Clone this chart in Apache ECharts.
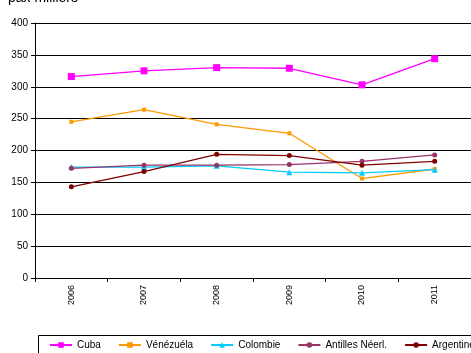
<!DOCTYPE html>
<html>
<head>
<meta charset="utf-8">
<script src="https://cdn.jsdelivr.net/npm/echarts@6/dist/echarts.min.js"></script>
<style>
  html, body { margin: 0; padding: 0; background: #fff; }
  #chart { width: 471px; height: 353px; }
</style>
</head>
<body>
<div id="chart"></div>
<script>
// Passagers par pays d'origine (milliers)
const years = ['2006', '2007', '2008', '2009', '2010', '2011'];
const cuba = [316, 325, 330, 329, 303, 344];
const venezuela = [245, 264, 241, 227, 156, 171];
const colombie = [174, 174, 176, 166, 165, 170];
const antilles = [172, 177, 177, 178, 183, 193];
const argentine = [143, 167, 194, 192, 177, 183];
const yTicks = { min: 0, max: 400, interval: 50 };

const FONT = 'Liberation Sans, Arial, sans-serif';

function lineSeries(name, data, color, symbol, size) {
  return {
    name: name,
    type: 'line',
    data: data,
    symbol: symbol,
    symbolSize: size,
    showSymbol: true,
    lineStyle: { color: color, width: 1.3 },
    itemStyle: { color: color },
    emphasis: { disabled: true },
    animation: false
  };
}

const chart = echarts.init(document.getElementById('chart'), null, { renderer: 'canvas' });
chart.setOption({
  backgroundColor: '#ffffff',
  animation: false,
  textStyle: { fontFamily: FONT },
  grid: { left: 35, top: 23, width: 446, height: 255 },
  graphic: [
    {
      type: 'text', left: 8, top: -9,
      style: { text: 'pax milliers', font: '14px ' + FONT, fill: '#000' }
    },
    {
      type: 'rect', left: 38, top: 335, z: -1,
      shape: { width: 500, height: 30 },
      style: { fill: '#fff', stroke: '#000', lineWidth: 1 }
    }
  ],
  legend: {
    left: 49, top: 340, width: 700, padding: 0,
    itemWidth: 22, itemHeight: 7, itemGap: 17,
    textStyle: { fontSize: 10, color: '#000', fontFamily: FONT },
    data: ['Cuba', 'Vénézuéla', 'Colombie', 'Antilles Néerl.', 'Argentine']
  },
  xAxis: {
    type: 'category',
    data: years,
    boundaryGap: true,
    axisLine: { lineStyle: { color: '#000', width: 1 } },
    axisTick: { show: true, length: 4, lineStyle: { color: '#000' } },
    axisLabel: { rotate: 90, margin: 7, fontSize: 9, color: '#000', fontFamily: FONT },
    splitLine: { show: false }
  },
  yAxis: {
    type: 'value',
    min: yTicks.min, max: yTicks.max, interval: yTicks.interval,
    axisLine: { show: true, lineStyle: { color: '#000', width: 1 } },
    axisTick: { show: true, length: 4, lineStyle: { color: '#000' } },
    axisLabel: { fontSize: 10, color: '#000', margin: 7, fontFamily: FONT },
    splitLine: { show: true, lineStyle: { color: '#000', width: 1 } }
  },
  series: [
    lineSeries('Cuba', cuba, '#ff00ff', 'rect', 7),
    lineSeries('Vénézuéla', venezuela, '#ff9900', 'rect', 4),
    lineSeries('Colombie', colombie, '#00ccff', 'triangle', 6),
    lineSeries('Antilles Néerl.', antilles, '#993366', 'circle', 5),
    lineSeries('Argentine', argentine, '#800000', 'circle', 5)
  ]
});
</script>
</body>
</html>
